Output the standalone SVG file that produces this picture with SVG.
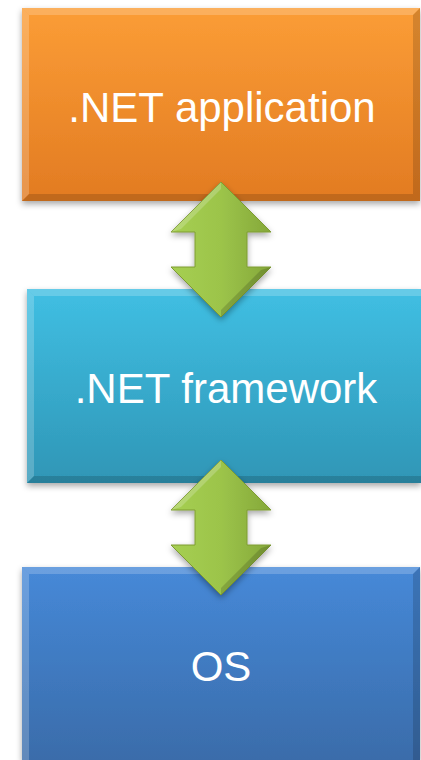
<svg xmlns="http://www.w3.org/2000/svg" width="421" height="760" viewBox="0 0 421 760">
<defs>
<linearGradient id="gO" x1="0" y1="0" x2="0" y2="1"><stop offset="0" stop-color="#FB9D36"/><stop offset="1" stop-color="#E27B22"/></linearGradient>
<linearGradient id="gC" x1="0" y1="0" x2="0" y2="1"><stop offset="0" stop-color="#40BFE3"/><stop offset="1" stop-color="#2F96B6"/></linearGradient>
<linearGradient id="gB" x1="0" y1="0" x2="0" y2="1"><stop offset="0" stop-color="#4689D8"/><stop offset="1" stop-color="#3A6CAA"/></linearGradient>
<linearGradient id="gG" x1="0" y1="0" x2="1" y2="0"><stop offset="0" stop-color="#A6CF52"/><stop offset="0.5" stop-color="#9CC44A"/><stop offset="1" stop-color="#85A83A"/></linearGradient>
<filter id="sh" x="-10%" y="-10%" width="120%" height="125%"><feDropShadow dx="0" dy="3" stdDeviation="3" flood-color="#000" flood-opacity="0.35"/></filter>
</defs>
<style>
.lbl{font-family:"Liberation Sans",Arial,sans-serif;font-size:42px;fill:#fff;text-anchor:middle}
.hl{fill:#fff;opacity:0.2}
.dk{fill:#000;opacity:0.15}
.arr{fill:url(#gG);stroke:#7E9C33;stroke-width:1}
</style>
<g id="node-app">
<rect x="22" y="8" width="398" height="193" fill="url(#gO)" filter="url(#sh)"/>
<polygon class="hl" points="22,8 420,8 413,15 29,15"/>
<polygon class="hl" points="22,8 29,15 29,194 22,201" opacity="0.12"/>
<polygon class="dk" points="22,201 29,194 413,194 420,201"/>
<polygon class="dk" points="420,8 420,201 413,194 413,15" opacity="0.1"/>
<text class="lbl" x="222" y="122">.NET application</text>
</g>
<g id="node-fw">
<rect x="27" y="289" width="394" height="194" fill="url(#gC)" filter="url(#sh)"/>
<polygon class="hl" points="27,289 421,289 421,296 34,296"/>
<polygon class="hl" points="27,289 34,296 34,476 27,483" opacity="0.12"/>
<polygon class="dk" points="27,483 34,476 421,476 421,483"/>
<text class="lbl" x="226" y="403">.NET framework</text>
</g>
<g id="node-os">
<rect x="22" y="567" width="398" height="193" fill="url(#gB)" filter="url(#sh)"/>
<polygon class="hl" points="22,567 420,567 413,574 29,574"/>
<polygon class="hl" points="22,567 29,574 29,760 22,760" opacity="0.12"/>
<polygon class="dk" points="420,567 420,760 413,760 413,574" opacity="0.1"/>
<text class="lbl" x="221" y="681">OS</text>
</g>
<g id="connectors">
<g id="arrow-1" filter="url(#sh)">
<polygon class="arr" points="221,182 271,232 247,232 247,267 271,267 221,317 171,267 195,267 195,232 171,232"/>
<polygon class="hl" points="221,182 171,232 181,229 221,189"/>
<polygon class="dk" points="221,317 271,267 261,270 221,310"/>
</g>
<g id="arrow-2" filter="url(#sh)">
<polygon class="arr" points="221,460 271,510 247,510 247,545 271,545 221,595 171,545 195,545 195,510 171,510"/>
<polygon class="hl" points="221,460 171,510 181,507 221,467"/>
<polygon class="dk" points="221,595 271,545 261,548 221,588"/>
</g>
</g>
</svg>
